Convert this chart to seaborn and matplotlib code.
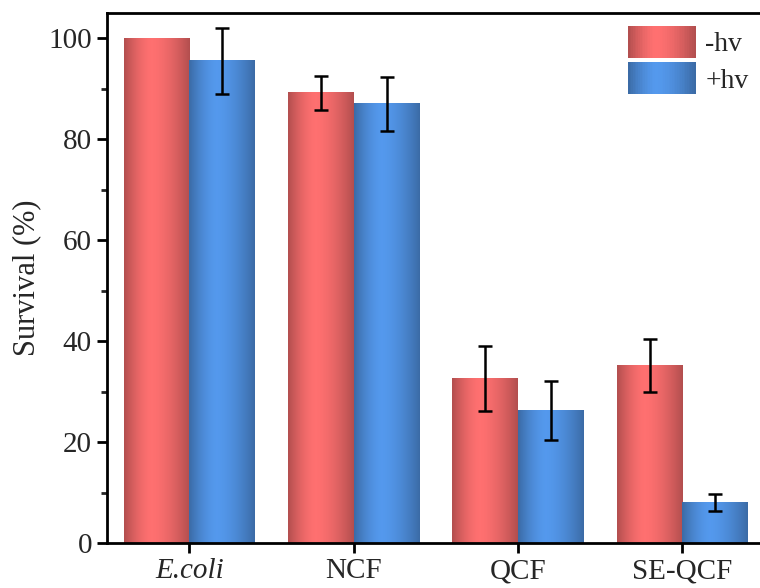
import numpy as np
import pandas as pd
import seaborn as sns
import matplotlib.pyplot as plt
from matplotlib.patches import Rectangle
from matplotlib.legend_handler import HandlerBase
from matplotlib.ticker import MultipleLocator

# Data
samples = ['E.coli', 'NCF', 'QCF', 'SE-QCF']
conditions = ['-hv', '+hv']
dark_mean = [100.0, 89.2, 32.6, 35.2]
dark_err = [0.0, 3.4, 6.4, 5.2]
light_mean = [95.5, 87.0, 26.3, 8.1]
light_err = [6.5, 5.3, 5.8, 1.7]

base_colors = {'-hv': np.array([1.0, 0.44, 0.44]), '+hv': np.array([0.33, 0.60, 0.93])}

df = pd.DataFrame({
    'sample': samples * 2,
    'condition': [conditions[0]] * 4 + [conditions[1]] * 4,
    'survival': dark_mean + light_mean,
})
errors = {'-hv': dark_err, '+hv': light_err}


def gradient(base, n=120):
    # dark edges, bright stripe a bit left of centre
    t = np.linspace(0, 1, n)
    peak = 0.42
    d = np.where(t < peak, (peak - t) / peak, (t - peak) / (1 - peak))
    f = 1 - 0.30 * d ** 1.6
    return np.clip(base[None, :] * f[:, None], 0, 1)


class GradientHandler(HandlerBase):
    def create_artists(self, legend, orig_handle, xdescent, ydescent,
                       width, height, fontsize, trans):
        cols = gradient(orig_handle.base, 40)
        n = len(cols)
        arts = []
        for i, c in enumerate(cols):
            r = Rectangle((-xdescent + width * i / n, -ydescent - 0.15 * height),
                          width / n * 1.05, height * 1.3,
                          facecolor=c, edgecolor='none', transform=trans)
            arts.append(r)
        return arts


sns.set_style('ticks')
plt.rcParams['font.family'] = ['Liberation Serif', 'DejaVu Serif']

fig = plt.figure(figsize=(7.6, 5.88), dpi=100)
ax = fig.add_axes([0.141, 0.0765, 0.865, 0.9015])

sns.barplot(data=df, x='sample', y='survival', hue='condition',
            palette=[tuple(base_colors[c]) for c in conditions],
            width=0.8, errorbar=None, legend=False, ax=ax, saturation=1)

# gradient fill + error bars
for cond, cont in zip(conditions, ax.containers):
    img = gradient(base_colors[cond])[None, :, :]
    for bar, err in zip(cont, errors[cond]):
        x0, w, h = bar.get_x(), bar.get_width(), bar.get_height()
        ax.imshow(img, extent=(x0, x0 + w, 0, h), aspect='auto',
                  interpolation='bilinear', zorder=2)
        if err > 0:
            ax.errorbar(x0 + w / 2, h, yerr=err, color='black', lw=1.8,
                        capsize=5, capthick=1.8, zorder=3)

ax.set_xlim(-0.5, 3.5)
ax.set_ylim(0, 105)
ax.yaxis.set_major_locator(MultipleLocator(20))
ax.yaxis.set_minor_locator(MultipleLocator(10))
ax.set_xlabel('')
ax.set_ylabel('Survival (%)', fontsize=22, labelpad=5)

for s in ax.spines.values():
    s.set_linewidth(2)
    s.set_color('black')
ax.tick_params(axis='both', which='major', direction='out', length=7, width=2,
               labelsize=21, color='black')
ax.tick_params(axis='y', which='minor', direction='out', length=4, width=2)
ax.tick_params(axis='y', pad=4)
ax.tick_params(axis='x', pad=4)
for lab in ax.get_xticklabels():
    if lab.get_text() == 'E.coli':
        lab.set_fontstyle('italic')

handles = []
for c in conditions:
    p = Rectangle((0, 0), 1, 1)
    p.base = base_colors[c]
    handles.append(p)
ax.legend(handles, conditions, handler_map={Rectangle: GradientHandler()},
          loc='upper left', bbox_to_anchor=(628 / 760, 1 - 29.5 / 588),
          bbox_transform=fig.transFigure, frameon=False, fontsize=20,
          handlelength=2.43, handleheight=1.0, labelspacing=0.3,
          handletextpad=0.35, borderpad=0, borderaxespad=0)

plt.savefig('out.png', dpi=100)
